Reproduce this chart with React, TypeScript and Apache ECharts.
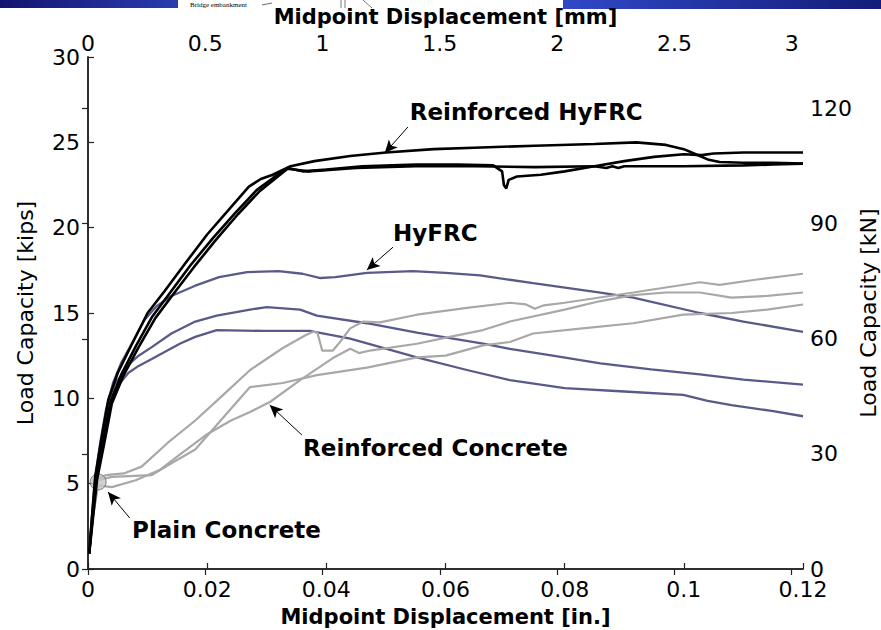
import { useEffect, useRef } from "react";
import * as echarts from "echarts";

// ---- axes (inches / kips, with secondary mm / kN) ----
const X_MAX_IN = 0.12;
const X_STEP_IN = 0.02;
const Y_MAX_KIPS = 30;
const Y_STEP_KIPS = 5;
const MM_PER_IN = 25.4;
const KN_PER_KIP = 4.44822;
const X_STEP_MM = 0.5;
const Y_STEP_KN = 30;

// ---- Reinforced HyFRC (black) [in., kips] ----
const reinforcedHyFRC1: number[][] = [
  [0.0002, 0.9], [0.0007, 3.2], [0.0012, 5.4], [0.0023, 7.7], [0.0034, 9.9], [0.005, 11.5],
  [0.0074, 13.2], [0.01, 15.0], [0.0129, 16.3], [0.0163, 17.9], [0.02, 19.6], [0.024, 21.2],
  [0.027, 22.4], [0.029, 22.85], [0.031, 23.1], [0.034, 23.6], [0.038, 23.9], [0.044, 24.2],
  [0.05, 24.4], [0.058, 24.6], [0.066, 24.7], [0.075, 24.8], [0.085, 24.9], [0.092, 25.0],
  [0.097, 24.85], [0.1, 24.6], [0.102, 24.3], [0.104, 24.0], [0.106, 23.85], [0.11, 23.8],
  [0.115, 23.8], [0.12, 23.75],
];
const reinforcedHyFRC2: number[][] = [
  [0.0002, 0.9], [0.0008, 3.2], [0.0014, 5.3], [0.0026, 7.6], [0.0038, 9.8], [0.0056, 11.4],
  [0.0081, 13.1], [0.0108, 14.8], [0.0138, 16.2], [0.0172, 17.8], [0.021, 19.4], [0.0248, 20.9],
  [0.0283, 22.2], [0.031, 22.9], [0.0335, 23.5], [0.036, 23.3], [0.04, 23.4], [0.046, 23.6],
  [0.055, 23.7], [0.062, 23.7], [0.068, 23.65], [0.0695, 23.3], [0.0698, 22.5], [0.0702, 22.3],
  [0.0706, 22.8], [0.072, 23.0], [0.076, 23.1], [0.08, 23.3], [0.085, 23.6], [0.09, 23.9],
  [0.095, 24.15], [0.1, 24.3], [0.103, 24.25], [0.105, 24.35], [0.11, 24.4], [0.115, 24.4],
  [0.12, 24.4],
];
const reinforcedHyFRC3: number[][] = [
  [0.0002, 0.9], [0.0009, 3.2], [0.0015, 5.2], [0.0028, 7.5], [0.004, 9.7], [0.0059, 11.3],
  [0.0085, 13.0], [0.0113, 14.7], [0.0143, 16.1], [0.0178, 17.7], [0.0215, 19.3], [0.0252, 20.8],
  [0.0287, 22.1], [0.0315, 22.9], [0.0335, 23.45], [0.037, 23.3], [0.045, 23.5], [0.055, 23.6],
  [0.065, 23.6], [0.075, 23.55], [0.085, 23.6], [0.087, 23.5], [0.088, 23.6], [0.089, 23.5],
  [0.09, 23.6], [0.1, 23.6], [0.11, 23.65], [0.115, 23.7], [0.12, 23.75],
];

// ---- HyFRC (navy) ----
const hyFRC1: number[][] = [
  [0.0002, 0.9], [0.0007, 3.2], [0.0012, 5.3], [0.002, 7.3], [0.003, 9.3], [0.0042, 10.9],
  [0.0056, 12.1], [0.0075, 13.3], [0.0095, 14.6], [0.0115, 15.4], [0.014, 16.0], [0.018, 16.6],
  [0.022, 17.1], [0.0267, 17.4], [0.032, 17.45], [0.036, 17.3], [0.039, 17.05], [0.0415, 17.1],
  [0.0468, 17.35], [0.0545, 17.45], [0.06, 17.35], [0.0658, 17.2], [0.0747, 16.75], [0.086, 16.2],
  [0.0915, 15.9], [0.1027, 15.0], [0.11, 14.5], [0.12, 13.9],
];
const hyFRC2: number[][] = [
  [0.0002, 0.9], [0.0007, 3.2], [0.0013, 5.3], [0.0021, 7.3], [0.0031, 9.3], [0.0045, 10.8],
  [0.0067, 11.95], [0.0085, 12.5], [0.0107, 13.0], [0.014, 13.8], [0.018, 14.5], [0.0216, 14.85],
  [0.0272, 15.2], [0.03, 15.35], [0.0356, 15.2], [0.0384, 14.85], [0.0468, 14.4], [0.0552, 13.85],
  [0.0663, 13.2], [0.0708, 12.9], [0.078, 12.5], [0.086, 12.05], [0.0945, 11.7], [0.1027, 11.4],
  [0.11, 11.1], [0.12, 10.8],
];
const hyFRC3: number[][] = [
  [0.0002, 0.9], [0.0008, 3.2], [0.0014, 5.3], [0.0022, 7.3], [0.0032, 9.2], [0.0047, 10.6],
  [0.0068, 11.5], [0.0085, 11.9], [0.0107, 12.3], [0.0154, 13.2], [0.018, 13.6], [0.0216, 14.0],
  [0.0294, 13.95], [0.0372, 13.95], [0.044, 13.5], [0.0552, 12.4], [0.0636, 11.66], [0.0708, 11.07],
  [0.08, 10.6], [0.09, 10.4], [0.0999, 10.2], [0.104, 9.85], [0.108, 9.6], [0.115, 9.25],
  [0.12, 8.95],
];

// ---- Reinforced Concrete (gray) ----
const reinforcedConcrete1: number[][] = [
  [0.0002, 0.9], [0.0008, 3.0], [0.0017, 5.3], [0.003, 5.5], [0.006, 5.6], [0.009, 6.0],
  [0.0134, 7.4], [0.018, 8.7], [0.0227, 10.2], [0.0272, 11.66], [0.0327, 12.95], [0.0365, 13.7],
  [0.0378, 13.9], [0.0385, 13.85], [0.039, 13.2], [0.0393, 12.8], [0.0411, 12.8], [0.0423, 13.3],
  [0.044, 14.1], [0.0462, 14.5], [0.049, 14.45], [0.0552, 14.9], [0.0636, 15.3], [0.0708, 15.6],
  [0.0735, 15.5], [0.075, 15.25], [0.0765, 15.45], [0.08, 15.6], [0.0915, 16.2], [0.1027, 16.8],
  [0.106, 16.65], [0.112, 16.95], [0.12, 17.3],
];
const reinforcedConcrete2: number[][] = [
  [0.0002, 0.9], [0.0008, 3.0], [0.0017, 4.9], [0.004, 4.8], [0.008, 5.2], [0.012, 5.8],
  [0.0154, 6.7], [0.02, 7.9], [0.024, 8.7], [0.0272, 9.2], [0.0306, 9.8], [0.0356, 11.07],
  [0.0411, 12.36], [0.044, 12.9], [0.0455, 12.65], [0.0473, 12.8], [0.0552, 13.2], [0.0607, 13.6],
  [0.0663, 14.0], [0.0708, 14.5], [0.08, 15.2], [0.086, 15.7], [0.0915, 16.05], [0.097, 16.2],
  [0.1027, 16.2], [0.108, 15.9], [0.114, 16.0], [0.12, 16.2],
];
const reinforcedConcrete3: number[][] = [
  [0.0002, 0.9], [0.0008, 3.0], [0.0017, 5.2], [0.004, 5.4], [0.0107, 5.5], [0.014, 6.2],
  [0.018, 7.0], [0.022, 8.6], [0.0272, 10.66], [0.0327, 10.9], [0.0384, 11.36], [0.0468, 11.8],
  [0.0552, 12.4], [0.06, 12.5], [0.0663, 13.1], [0.0708, 13.3], [0.0747, 13.8], [0.083, 14.1],
  [0.0915, 14.4], [0.0999, 14.9], [0.108, 15.0], [0.114, 15.2], [0.12, 15.5],
];

// ---- Plain Concrete (peak marker) ----
const plainConcreteLine: number[][] = [[0.0002, 0.9], [0.0009, 3.2], [0.0017, 5.1]];
const plainConcretePeak: number[][] = [[0.0017, 5.1]];

// ---- annotations: label anchor (left, middle) and arrow from -> to ----
const annotationTexts = ["Reinforced HyFRC", "HyFRC", "Reinforced Concrete", "Plain Concrete"];
const annotationAnchors: number[][] = [[0.054, 26.77], [0.0512, 19.68], [0.0361, 7.09], [0.0074, 2.28]];
const arrowFrom: number[][] = [[0.0537, 25.9], [0.0512, 18.86], [0.0359, 7.85], [0.007, 2.99]];
const arrowTo: number[][] = [[0.0498, 24.37], [0.0468, 17.52], [0.0305, 9.61], [0.00336, 4.51]];

const FONT = '"DejaVu Sans", Arial, sans-serif';
const BLACK = "#000000";
const NAVY = "#5a5a8a";
const GRAY = "#a8a8a8";

export default function App() {
  const ref = useRef<HTMLDivElement>(null);

  useEffect(() => {
    document.body.style.margin = "0";
    if (!ref.current) return;
    const chart = echarts.init(ref.current, undefined, { renderer: "svg" });

    const axisLine = { show: true, lineStyle: { color: "#222", width: 1.5 } };
    const axisTick = { show: true, inside: true, length: 6, lineStyle: { color: "#222", width: 1.2 } };
    const label = (margin: number, lineHeight: number) => ({
      fontSize: 22,
      fontFamily: FONT,
      color: "#000",
      margin,
      lineHeight,
    });

    const lineSeries = (data: number[][], color: string, width: number, z: number) => ({
      type: "line",
      data,
      showSymbol: false,
      symbol: "none",
      lineStyle: { color, width },
      z,
      silent: true,
      xAxisIndex: 0,
      yAxisIndex: 0,
    });

    chart.setOption({
      animation: false,
      backgroundColor: "#ffffff",
      grid: {
        left: 88,
        top: 57,
        width: 715,
        height: 512,
        containLabel: false,
        outerBoundsMode: "none",
      },
      xAxis: [
        {
          type: "value",
          position: "bottom",
          min: 0,
          max: X_MAX_IN,
          interval: X_STEP_IN,
          axisLine,
          axisTick,
          splitLine: { show: false },
          axisLabel: label(12, 17),
          name: "Midpoint Displacement [in.]",
          nameLocation: "middle",
          nameGap: 37,
          nameMoveOverlap: false,
          nameTextStyle: { fontSize: 21, fontWeight: "bold", fontFamily: FONT, color: "#000" },
        },
        {
          type: "value",
          position: "top",
          min: 0,
          max: X_MAX_IN * MM_PER_IN,
          interval: X_STEP_MM,
          axisLine,
          axisTick,
          splitLine: { show: false },
          axisLabel: { ...label(5, 18), showMaxLabel: false },
          name: "Midpoint Displacement [mm]",
          nameLocation: "middle",
          nameGap: 30,
          nameMoveOverlap: false,
          nameTextStyle: { fontSize: 21, fontWeight: "bold", fontFamily: FONT, color: "#000", lineHeight: 20 },
        },
      ],
      yAxis: [
        {
          type: "value",
          position: "left",
          min: 0,
          max: Y_MAX_KIPS,
          interval: Y_STEP_KIPS,
          axisLine,
          axisTick,
          splitLine: { show: false },
          axisLabel: label(8, 18),
          name: "Load Capacity [kips]",
          nameLocation: "middle",
          nameGap: 52,
          nameMoveOverlap: false,
          nameTextStyle: { fontSize: 22, fontFamily: FONT, color: "#000" },
        },
        {
          type: "value",
          position: "right",
          min: 0,
          max: Y_MAX_KIPS * KN_PER_KIP,
          interval: Y_STEP_KN,
          axisLine,
          axisTick,
          splitLine: { show: false },
          axisLabel: { ...label(7, 16), showMaxLabel: false },
          name: "Load Capacity [kN]",
          nameLocation: "middle",
          nameRotate: 90,
          nameGap: 54,
          nameMoveOverlap: false,
          nameTextStyle: { fontSize: 22, fontFamily: FONT, color: "#000", lineHeight: 22 },
        },
      ],
      series: [
        lineSeries(hyFRC1, NAVY, 2.3, 2),
        lineSeries(hyFRC2, NAVY, 2.3, 2),
        lineSeries(hyFRC3, NAVY, 2.3, 2),
        lineSeries(reinforcedConcrete1, GRAY, 2.2, 3),
        lineSeries(reinforcedConcrete2, GRAY, 2.2, 3),
        lineSeries(reinforcedConcrete3, GRAY, 2.2, 3),
        lineSeries(plainConcreteLine, GRAY, 1.5, 3),
        {
          type: "scatter",
          data: plainConcretePeak,
          symbol: "circle",
          symbolSize: 16,
          itemStyle: { color: "#c4c4c4", borderColor: "#6a6a6a", borderWidth: 1 },
          z: 4,
          silent: true,
          markLine: {
            silent: true,
            symbol: ["none", "arrow"],
            symbolSize: [9, 13],
            label: { show: false },
            lineStyle: { color: "#000", width: 1, type: "solid" },
            data: arrowFrom.map((f, i) => [{ coord: f }, { coord: arrowTo[i] }]),
            z: 10,
          },
        },
        lineSeries(reinforcedHyFRC1, BLACK, 2.6, 5),
        lineSeries(reinforcedHyFRC2, BLACK, 2.6, 5),
        lineSeries(reinforcedHyFRC3, BLACK, 2.6, 5),
      ],
    });

    const texts = annotationTexts.map((t, i) => {
      const p = chart.convertToPixel({ xAxisIndex: 0, yAxisIndex: 0 }, annotationAnchors[i]) as number[];
      return {
        type: "text",
        x: p[0],
        y: p[1],
        z: 20,
        silent: true,
        style: {
          text: t,
          fontSize: 23,
          fontWeight: "bold",
          fontFamily: FONT,
          fill: "#000",
          align: "left",
          verticalAlign: "middle",
        },
      };
    });

    const header = [
      {
        type: "rect",
        shape: { x: 0, y: 0, width: 178, height: 8 },
        style: {
          fill: new echarts.graphic.LinearGradient(0, 0, 1, 0, [
            { offset: 0, color: "#141470" },
            { offset: 1, color: "#2a3cb0" },
          ]),
        },
        silent: true,
      },
      {
        type: "rect",
        shape: { x: 563, y: 0, width: 318, height: 9 },
        style: {
          fill: new echarts.graphic.LinearGradient(0, 0, 1, 0, [
            { offset: 0, color: "#3048c8" },
            { offset: 1, color: "#131c78" },
          ]),
        },
        silent: true,
      },
      {
        type: "text",
        x: 190,
        y: 1,
        silent: true,
        style: {
          text: "Bridge embankment",
          fontSize: 7,
          fontFamily: '"Liberation Serif", serif',
          fill: "#000",
          align: "left",
          verticalAlign: "top",
        },
      },
      { type: "line", shape: { x1: 262, y1: 5, x2: 272, y2: 3 }, style: { stroke: "#000", lineWidth: 0.6 }, silent: true },
      { type: "line", shape: { x1: 341, y1: 0, x2: 341, y2: 8 }, style: { stroke: "#555", lineWidth: 0.8 }, silent: true },
      { type: "line", shape: { x1: 345, y1: 0, x2: 345, y2: 8 }, style: { stroke: "#555", lineWidth: 0.8 }, silent: true },
      { type: "line", shape: { x1: 363, y1: 0, x2: 372, y2: 8 }, style: { stroke: "#555", lineWidth: 0.8 }, silent: true },
    ];

    chart.setOption({ graphic: [...header, ...texts] });

    return () => chart.dispose();
  }, []);

  return <div ref={ref} style={{ width: 881, height: 630 }} />;
}
